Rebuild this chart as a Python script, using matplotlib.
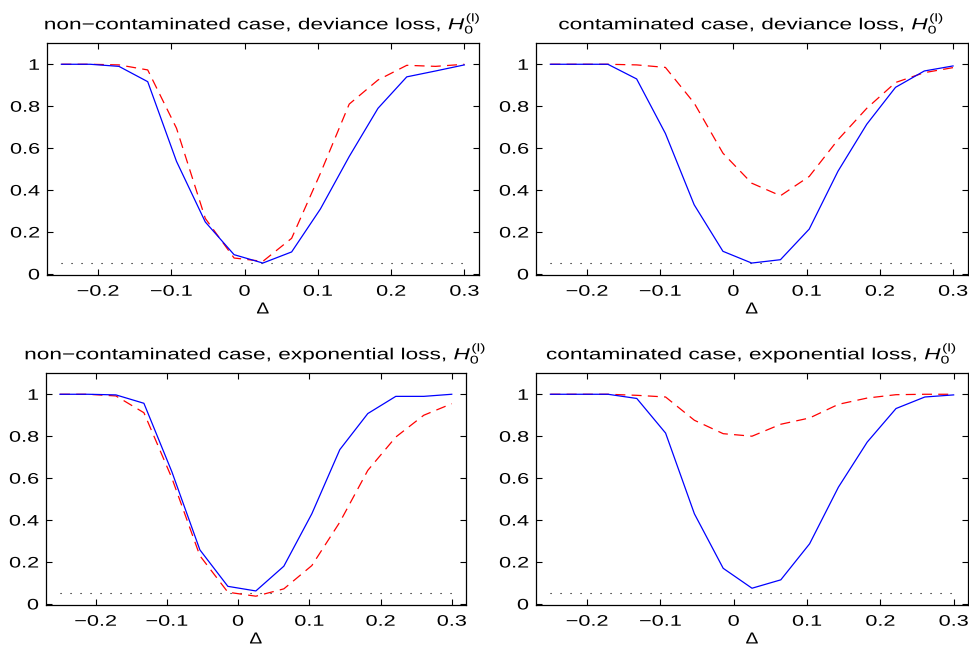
import numpy as np
import matplotlib
matplotlib.use("Agg")
import matplotlib.pyplot as plt
from matplotlib.patheffects import AbstractPathEffect
from matplotlib.transforms import Affine2D

plt.rcParams['font.family'] = ['Liberation Sans', 'DejaVu Sans']
plt.rcParams['mathtext.fontset'] = 'custom'
plt.rcParams['mathtext.rm'] = 'Liberation Sans'
plt.rcParams['mathtext.it'] = 'Liberation Sans:italic'

delta = np.linspace(-0.25, 0.3, 15)
level = 0.05

titles = [
    "non\u2212contaminated case, deviance loss, $H_0^{(\\mathrm{l})}$",
    "contaminated case, deviance loss, $H_0^{(\\mathrm{l})}$",
    "non\u2212contaminated case, exponential loss, $H_0^{(\\mathrm{l})}$",
    "contaminated case, exponential loss, $H_0^{(\\mathrm{l})}$",
]

blue_nc_dev = [1.0, 1.0, 0.99, 0.917, 0.537, 0.248, 0.092, 0.052, 0.105, 0.31, 0.56, 0.79, 0.94, 0.968, 0.997]
red_nc_dev = [1.0, 1.0, 0.997, 0.973, 0.695, 0.265, 0.076, 0.06, 0.17, 0.48, 0.81, 0.925, 0.995, 0.99, 1.0]

blue_c_dev = [1.0, 1.0, 1.0, 0.93, 0.67, 0.33, 0.108, 0.052, 0.068, 0.214, 0.49, 0.714, 0.89, 0.968, 0.992]
red_c_dev = [1.0, 1.0, 1.0, 0.997, 0.985, 0.815, 0.576, 0.433, 0.373, 0.465, 0.64, 0.79, 0.913, 0.96, 0.984]

blue_nc_exp = [1.0, 1.0, 0.997, 0.957, 0.63, 0.258, 0.084, 0.062, 0.18, 0.43, 0.736, 0.908, 0.99, 0.99, 1.0]
red_nc_exp = [1.0, 1.0, 0.992, 0.912, 0.6, 0.23, 0.056, 0.037, 0.072, 0.183, 0.39, 0.637, 0.796, 0.9, 0.955]

blue_c_exp = [1.0, 1.0, 1.0, 0.98, 0.815, 0.43, 0.17, 0.075, 0.115, 0.287, 0.557, 0.772, 0.932, 0.987, 0.997]
red_c_exp = [1.0, 1.0, 1.0, 0.995, 0.987, 0.876, 0.812, 0.8, 0.857, 0.887, 0.952, 0.982, 0.998, 1.0, 1.0]

blues = [blue_nc_dev, blue_c_dev, blue_nc_exp, blue_c_exp]
reds = [red_nc_dev, red_c_dev, red_nc_exp, red_c_exp]

xticks = [-0.2, -0.1, 0, 0.1, 0.2, 0.3]
xticklabels = ["\u22120.2", "\u22120.1", "0", "0.1", "0.2", "0.3"]
yticks = [0, 0.2, 0.4, 0.6, 0.8, 1]
yticklabels = ["0", "0.2", "0.4", "0.6", "0.8", "1"]


class Stretch(AbstractPathEffect):
    """Stretch text glyphs horizontally about an anchor."""
    def __init__(self, sx=1.4, align='center'):
        super().__init__()
        self.sx = sx
        self.align = align

    def draw_path(self, renderer, gc, tpath, affine, rgbFace=None):
        ext = tpath.get_extents()
        if self.align == 'center':
            cx = 0.5 * (ext.x0 + ext.x1)
        elif self.align == 'right':
            cx = ext.x1
        else:
            cx = ext.x0
        t = Affine2D().translate(-cx, 0).scale(self.sx, 1).translate(cx, 0) + affine
        renderer.draw_path(gc, tpath, t, rgbFace)


SX = 1.42

fig = plt.figure(figsize=(9.7, 6.5), dpi=100)
W, H = 970, 650
boxes = [
    (46.7, 43.3, 479, 275),
    (535.7, 43.3, 967.7, 275),
    (45.7, 373.3, 466, 605),
    (535.7, 373.3, 968.3, 605),
]

for i, (x0, y0, x1, y1) in enumerate(boxes):
    ax = fig.add_axes([x0 / W, 1 - y1 / H, (x1 - x0) / W, (y1 - y0) / H])
    ax.plot([delta[0], delta[-1]], [level, level], color='black',
            linestyle=(0, (1, 8)), lw=0.8)
    ax.plot(delta, reds[i], color='red', linestyle=(0, (8, 5)), lw=0.9)
    ax.plot(delta, blues[i], color='blue', linestyle='-', lw=0.9)
    ax.set_xlim(-0.27, 0.32)
    ax.set_ylim(-0.005, 1.1)
    ax.set_xticks(xticks)
    ax.set_xticklabels(xticklabels)
    ax.set_yticks(yticks)
    ax.set_yticklabels(yticklabels)
    ax.tick_params(direction='in', top=True, right=True, length=4,
                   width=0.8, labelsize=11)
    ax.tick_params(axis='x', pad=7)
    ax.tick_params(axis='y', pad=5)
    for lab in ax.get_xticklabels():
        lab.set_path_effects([Stretch(SX, 'center')])
    for lab in ax.get_yticklabels():
        lab.set_path_effects([Stretch(SX, 'right')])
    for s in ax.spines.values():
        s.set_linewidth(0.9)
    xl = ax.set_xlabel("\u0394", fontsize=11.5, labelpad=2)
    xl.set_path_effects([Stretch(1.2, 'center')])
    t = ax.set_title(titles[i], fontsize=11.5, pad=10)
    t.set_path_effects([Stretch(SX, 'center')])

fig.savefig("out.png", dpi=100)
